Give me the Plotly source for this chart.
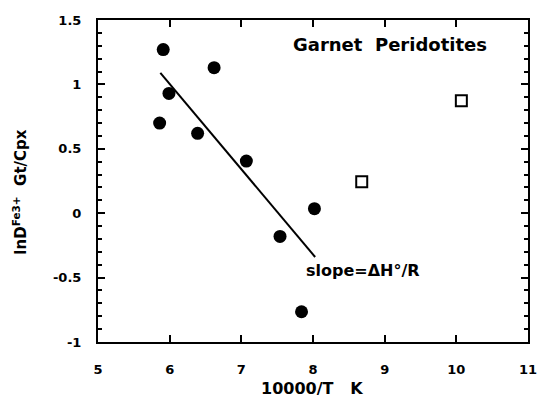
import plotly.graph_objects as go

# Data
gp_x = [5.91, 6.62, 5.99, 5.86, 6.39, 7.07, 8.02, 7.54, 7.84]
gp_y = [1.27, 1.13, 0.93, 0.70, 0.62, 0.405, 0.035, -0.18, -0.765]
open_x = [8.68, 10.07]
open_y = [0.245, 0.873]
fit_x = [5.87, 8.03]
fit_y = [1.09, -0.34]
x_ticks = [5, 6, 7, 8, 9, 10, 11]
y_ticks = [-1, -0.5, 0, 0.5, 1, 1.5]
y_tick_text = ["-1", "-0.5", "0", "0.5", "1", "1.5"]

FONT = "DejaVu Sans"

fig = go.Figure()
fig.add_trace(go.Scatter(x=fit_x, y=fit_y, mode="lines",
                         line=dict(color="black", width=2), showlegend=False))
fig.add_trace(go.Scatter(x=gp_x, y=gp_y, mode="markers",
                         marker=dict(symbol="circle", size=13, color="black"),
                         showlegend=False))
fig.add_trace(go.Scatter(x=open_x, y=open_y, mode="markers",
                         marker=dict(symbol="square-open", size=11, color="black",
                                     line=dict(width=2, color="black")),
                         showlegend=False))

fig.update_layout(
    width=545, height=405,
    margin=dict(l=98, r=8, t=20, b=63),
    paper_bgcolor="white", plot_bgcolor="white",
    font=dict(family=FONT, color="black"),
    xaxis=dict(range=[5, 11], tickvals=x_ticks,
               ticktext=["<b>%d</b>" % v for v in x_ticks],
               ticks="inside", ticklen=7, tickwidth=1.5, tickcolor="black",
               showline=True, linecolor="black", linewidth=2, mirror="ticks",
               showgrid=False, zeroline=False,
               tickfont=dict(size=13, family=FONT),
               ticklabelstandoff=14),
    yaxis=dict(range=[-1, 1.5], tickvals=y_ticks,
               ticktext=["<b>%s</b>" % t for t in y_tick_text],
               ticks="inside", ticklen=7, tickwidth=1.5, tickcolor="black",
               minor=dict(dtick=0.1, ticks="inside", ticklen=4, tickwidth=1.5,
                          tickcolor="black"),
               showline=True, linecolor="black", linewidth=2, mirror="ticks",
               showgrid=False, zeroline=False,
               tickfont=dict(size=13, family=FONT),
               ticklabelstandoff=12),
    annotations=[
        dict(text="<b>Garnet  Peridotites</b>", xref="paper", yref="paper",
             x=(497 - 98) / 439, y=(342 - 45) / 322, xanchor="right",
             yanchor="middle", showarrow=False,
             font=dict(size=18, family=FONT)),
        dict(text="<b>10000/T   K</b>", x=(316 - 98) / 439, y=-(388 - 342) / 322,
             xref="paper", yref="paper",
             xanchor="center", yanchor="middle", showarrow=False,
             font=dict(size=16, family=FONT)),
        dict(text="<b>lnD<sup>Fe3+</sup>  Gt/Cpx</b>", x=-(98 - 18) / 439,
             y=(342 - 192) / 322, xref="paper",
             yref="paper", textangle=-90, showarrow=False,
             xanchor="center", yanchor="middle",
             font=dict(size=15, family=FONT)),
        dict(text="<b>slope=ΔH°/R</b>", x=(308 - 98) / 439, y=(342 - 270) / 322,
             xref="paper", yref="paper",
             xanchor="left", yanchor="middle", showarrow=False,
             font=dict(size=16, family=FONT)),
    ],
)

fig.write_html("out.html")
